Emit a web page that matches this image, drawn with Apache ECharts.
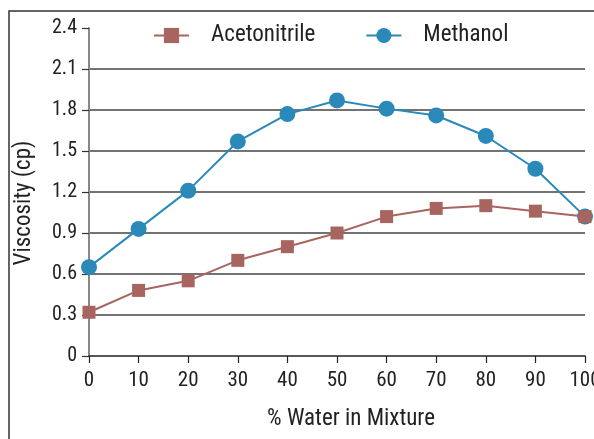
<!DOCTYPE html>
<html>
<head>
<meta charset="utf-8">
<script src="https://cdn.jsdelivr.net/npm/echarts@6/dist/echarts.min.js"></script>
<style>html,body{margin:0;padding:0;background:#fff;}#c{width:594px;height:439px;}</style>
</head>
<body>
<div id="c"></div>
<script>
const water = [0, 10, 20, 30, 40, 50, 60, 70, 80, 90, 100];
const acetonitrile = [0.32, 0.48, 0.55, 0.70, 0.80, 0.90, 1.02, 1.08, 1.10, 1.06, 1.02];
const methanol = [0.65, 0.93, 1.21, 1.57, 1.77, 1.87, 1.81, 1.76, 1.61, 1.37, 1.02];
const yTicks = [0, 0.3, 0.6, 0.9, 1.2, 1.5, 1.8, 2.1, 2.4];

const FONT = "'Liberation Sans Narrow', 'Roboto Condensed', 'Arial Narrow', Roboto, sans-serif";
const chart = echarts.init(document.getElementById('c'), null, {renderer: 'canvas'});
chart.setOption({
  animation: false,
  textStyle: {fontFamily: FONT, color: '#222'},
  grid: {left: 89, right: 9, top: 28, bottom: 83, containLabel: false, outerBoundsMode: 'none'},
  graphic: [{
    type: 'rect', shape: {x: 9, y: 11, width: 700, height: 600},
    style: {fill: 'none', stroke: '#333', lineWidth: 1.5}, z: -10, silent: true
  }],
  legend: {
    data: ['Acetonitrile', 'Methanol'],
    top: 24, left: 153, itemWidth: 35, itemHeight: 19, itemGap: 50, padding: 0,
    textStyle: {fontFamily: FONT, fontSize: 23, color: '#222', padding: [0, 0, 0, 17]}
  },
  xAxis: {
    type: 'value', min: 0, max: 100, interval: 10,
    name: '% Water in Mixture', nameLocation: 'middle', nameGap: 52,
    nameTextStyle: {fontFamily: FONT, fontSize: 23, color: '#222', padding: [0, 0, 0, 28]},
    axisLine: {lineStyle: {color: '#222', width: 1.5}},
    axisTick: {show: true, inside: false, length: 7, lineStyle: {color: '#222', width: 1.2}},
    axisLabel: {fontFamily: FONT, fontSize: 21, color: '#222', margin: 14,
      formatter: v => String(v)},
    splitLine: {show: false}
  },
  yAxis: {
    type: 'value', min: 0, max: 2.4, interval: 0.3,
    name: 'Viscosity (cp)', nameLocation: 'middle', nameGap: 53,
    nameTextStyle: {fontFamily: FONT, fontSize: 23, color: '#222', padding: [0, 22, 0, 0]},
    axisLine: {show: true, lineStyle: {color: '#888', width: 2}},
    axisTick: {show: true, length: 7, lineStyle: {color: '#333', width: 1.2}},
    axisLabel: {fontFamily: FONT, fontSize: 20, color: '#222', margin: 12,
      formatter: v => { const i = yTicks.findIndex(t => Math.abs(t - v) < 1e-6); return i >= 0 ? (v === 0 ? '0' : v.toFixed(1)) : ''; }},
    splitLine: {show: true, lineStyle: {color: '#444', width: 1.5}, showMinLine: false, showMaxLine: false}
  },
  series: [
    {
      name: 'Methanol', type: 'line', symbol: 'circle', symbolSize: 16,
      data: water.map((w, i) => [w, methanol[i]]),
      itemStyle: {color: '#2a89b8'}, lineStyle: {color: '#2a89b8', width: 2}, z: 2
    },
    {
      name: 'Acetonitrile', type: 'line', symbol: 'rect', symbolSize: 13,
      data: water.map((w, i) => [w, acetonitrile[i]]),
      itemStyle: {color: '#a8655f'}, lineStyle: {color: '#a8655f', width: 2}, z: 3
    }
  ]
});
</script>
</body>
</html>
